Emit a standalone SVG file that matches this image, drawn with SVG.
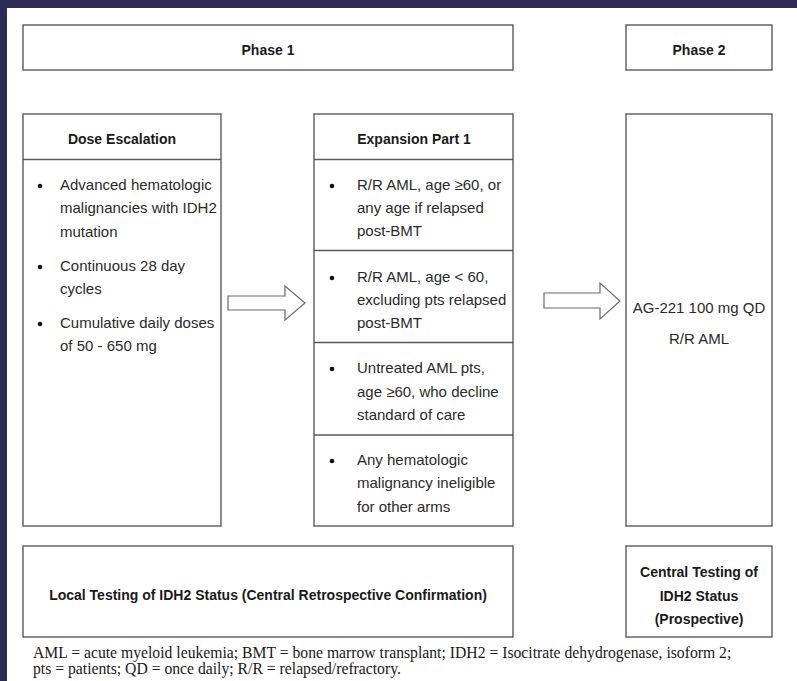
<svg xmlns="http://www.w3.org/2000/svg" width="797" height="681" viewBox="0 0 797 681">
<style>
.box{fill:#fff;stroke:#5a5a5a;stroke-width:1.4}
.hd{font-family:"Liberation Sans",Arial,sans-serif;font-size:14px;font-weight:bold;fill:#1a1a1a;text-anchor:middle}
.tx{font-family:"Liberation Sans",Arial,sans-serif;font-size:15px;fill:#2a2a2a}
.c{text-anchor:middle}
.fn{font-family:"Liberation Serif","Times New Roman",serif;font-size:15.7px;fill:#1a1a1a}
.arr{fill:#fff;stroke:#6a6a6a;stroke-width:1.2}
</style>
<rect x="0" y="0" width="797" height="681" fill="#fff"/>
<rect x="0" y="0" width="797" height="8" fill="#2d2b55"/>
<rect x="0" y="0" width="7" height="681" fill="#2d2b55"/>

<g id="phase1">
<rect class="box" x="23" y="25" width="490" height="45"/>
<text class="hd" x="268" y="55">Phase 1</text>
</g>
<g id="phase2">
<rect class="box" x="626" y="25" width="146" height="45"/>
<text class="hd" x="699" y="55">Phase 2</text>
</g>

<g id="dose-escalation">
<rect class="box" x="23" y="114" width="198" height="412"/>
<line class="box" x1="23" y1="159.5" x2="221" y2="159.5"/>
<text class="hd" x="122" y="144">Dose Escalation</text>
<g class="tx">
<circle cx="40" cy="186" r="2.3" fill="#111"/>
<text x="60" y="190">Advanced hematologic</text>
<text x="60" y="213">malignancies with IDH2</text>
<text x="60" y="237">mutation</text>
<circle cx="40" cy="267" r="2.3" fill="#111"/>
<text x="60" y="271">Continuous 28 day</text>
<text x="60" y="294">cycles</text>
<circle cx="40" cy="324" r="2.3" fill="#111"/>
<text x="60" y="328">Cumulative daily doses</text>
<text x="60" y="351">of 50 - 650 mg</text>
</g>
</g>

<g id="expansion">
<rect class="box" x="314" y="114" width="199" height="412"/>
<line class="box" x1="314" y1="159.5" x2="513" y2="159.5"/>
<line class="box" x1="314" y1="250.5" x2="513" y2="250.5"/>
<line class="box" x1="314" y1="342.5" x2="513" y2="342.5"/>
<line class="box" x1="314" y1="435" x2="513" y2="435"/>
<text class="hd" x="414" y="144">Expansion Part 1</text>
<g class="tx">
<circle cx="332" cy="186" r="2.3" fill="#111"/>
<text x="357" y="190">R/R AML, age ≥60, or</text>
<text x="357" y="213">any age if relapsed</text>
<text x="357" y="236">post-BMT</text>
<circle cx="332" cy="278" r="2.3" fill="#111"/>
<text x="357" y="282">R/R AML, age &lt; 60,</text>
<text x="357" y="305">excluding pts relapsed</text>
<text x="357" y="328">post-BMT</text>
<circle cx="332" cy="369" r="2.3" fill="#111"/>
<text x="357" y="373">Untreated AML pts,</text>
<text x="357" y="397">age ≥60, who decline</text>
<text x="357" y="420">standard of care</text>
<circle cx="332" cy="461" r="2.3" fill="#111"/>
<text x="357" y="465">Any hematologic</text>
<text x="357" y="488">malignancy ineligible</text>
<text x="357" y="512">for other arms</text>
</g>
</g>

<g id="phase2-arm">
<rect class="box" x="626" y="114" width="146" height="412"/>
<text class="tx c" x="699" y="313" font-size="14.5">AG-221 100 mg QD</text>
<text class="tx c" x="699" y="344" font-size="14.5">R/R AML</text>
</g>

<g id="local-testing">
<rect class="box" x="23" y="546" width="490" height="91"/>
<text class="hd" x="268" y="600">Local Testing of IDH2 Status (Central Retrospective Confirmation)</text>
</g>
<g id="central-testing">
<rect class="box" x="626" y="546" width="146" height="91"/>
<text class="hd" x="699" y="577">Central Testing of</text>
<text class="hd" x="699" y="601">IDH2 Status</text>
<text class="hd" x="699" y="624">(Prospective)</text>
</g>

<g id="connectors">
<path class="arr" d="M228,296 H285 V286 L305,303 L285,320 V310 H228 Z"/>
<path class="arr" d="M544,293 H600 V283 L620,301 L600,319 V308 H544 Z"/>
</g>

<g id="footnote" class="fn">
<text x="33" y="658">AML = acute myeloid leukemia; BMT = bone marrow transplant; IDH2 = Isocitrate dehydrogenase, isoform 2;</text>
<text x="33" y="674">pts = patients; QD = once daily; R/R = relapsed/refractory.</text>
</g>
</svg>
